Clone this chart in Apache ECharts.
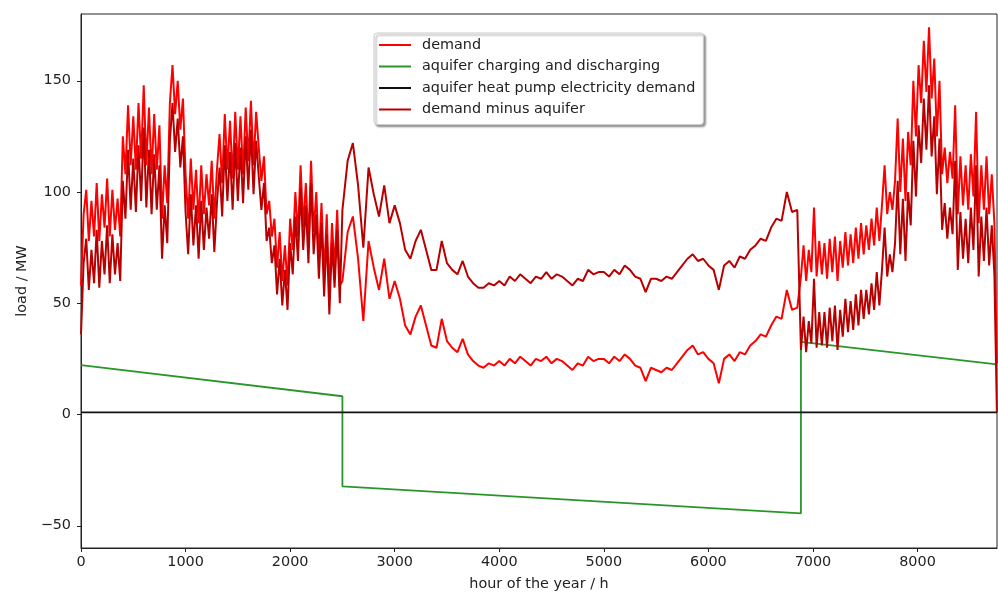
<!DOCTYPE html>
<html>
<head>
<meta charset="utf-8">
<script src="https://cdn.jsdelivr.net/npm/echarts@6/dist/echarts.min.js"></script>
<style>
  html, body { margin: 0; padding: 0; background: #fff; }
  #chart { width: 998px; height: 592px; }
</style>
</head>
<body>
<div id="chart"></div>
<script>
// hourly load, in three stretches:
// winter 1 (every 25 h from 0), summer (every 50 h from 2500), winter 2 (every 25 h from 6885)
var LAST_HOUR = 8759
var WINTER1_START = 0, WINTER1_STEP = 25
var SUMMER_START = 2500, SUMMER_STEP = 50
var WINTER2_START = 6885, WINTER2_STEP = 25

var demandWinter1 = [
  58, 90, 101, 78, 96, 80, 104, 78, 99, 84, 106, 80, 101, 83, 97, 80, 125, 108, 139, 112,
  134, 110, 140, 115, 148, 112, 138, 108, 135, 110, 130, 88, 112, 95, 140, 157, 135, 150, 128, 142,
  108, 88, 115, 92, 110, 86, 112, 90, 108, 94, 114, 88, 110, 126, 104, 135, 110, 132, 106, 136,
  110, 134, 108, 138, 114, 141, 112, 136, 120, 105, 116, 90, 96, 80, 88, 66, 82, 60, 76, 58,
  88, 74, 100, 80, 112, 84, 104, 78, 114, 82, 100, 70, 95, 62, 90, 54, 86, 66, 92, 58
]
var demandSummer = [
  60, 82, 89, 70, 42, 78, 66, 56, 70, 52,
  60, 52, 40, 36, 44, 49, 40, 31, 30, 43,
  33, 30, 28, 34, 27, 24, 22, 21, 23, 22,
  24, 22, 25, 23, 26, 24, 22, 25, 24, 26,
  23, 25, 24, 22, 20, 23, 22, 26, 24, 25,
  25, 23, 26, 24, 27, 25, 22, 21, 15, 21,
  20, 19, 21, 20, 23, 26, 29, 31, 27, 28,
  25, 23, 14, 25, 27, 24, 28, 27, 31, 33,
  36, 35, 40, 44, 43, 56, 47, 48
]
var demandWinter2 = [
  62, 76, 60, 74, 64, 93, 62, 78, 63, 77, 61, 79, 64, 80, 60, 78, 66, 82, 67, 81,
  68, 84, 70, 86, 72, 85, 74, 88, 76, 93, 78, 94, 112, 90, 100, 92, 105, 133, 100, 124,
  96, 127, 112, 150, 125, 157, 140, 168, 145, 174, 142, 160, 125, 150, 108, 120, 104, 118, 106, 139,
  90, 116, 94, 112, 92, 117, 98, 136, 86, 112, 92, 116, 90, 108, 86, 23
]

var minusAquiferWinter1 = [
  36, 68, 79, 56, 74, 59, 83, 57, 78, 63, 85, 59, 81, 63, 77, 60, 105, 88, 119, 92,
  115, 91, 121, 96, 129, 93, 119, 90, 117, 92, 112, 70, 94, 77, 123, 140, 118, 133, 111, 125,
  91, 72, 99, 76, 94, 70, 96, 74, 93, 79, 99, 73, 95, 111, 89, 121, 96, 118, 92, 122,
  96, 120, 95, 125, 101, 128, 99, 123, 107, 92, 104, 78, 84, 68, 76, 54, 70, 49, 65, 47,
  77, 63, 89, 69, 102, 74, 94, 68, 104, 72, 90, 61, 86, 53, 81, 45, 77, 57, 83, 50
]
var minusAquiferSummer = [
  92, 114, 122, 103, 75, 111, 99, 89, 103, 86,
  94, 86, 74, 70, 78, 83, 74, 65, 65, 78,
  68, 65, 63, 69, 62, 59, 57, 57, 59, 58,
  60, 58, 62, 60, 63, 61, 59, 62, 61, 64,
  61, 63, 62, 60, 58, 61, 60, 65, 63, 64,
  64, 62, 65, 63, 67, 65, 62, 61, 55, 61,
  61, 60, 62, 61, 64, 67, 70, 72, 69, 70,
  67, 65, 56, 67, 69, 66, 71, 70, 74, 76,
  79, 78, 84, 88, 87, 100, 91, 92
]
var minusAquiferWinter2 = [
  29, 44, 28, 42, 32, 61, 30, 46, 31, 46, 30, 48, 33, 49, 29, 47, 35, 52, 37, 51,
  38, 54, 40, 56, 43, 56, 45, 59, 47, 64, 49, 65, 84, 62, 72, 64, 77, 105, 72, 97,
  69, 100, 85, 123, 98, 130, 113, 142, 119, 148, 116, 134, 99, 124, 83, 95, 79, 93, 81, 114,
  65, 91, 70, 88, 68, 93, 74, 112, 62, 89, 69, 93, 67, 85, 63, 1
]

// aquifer charging / discharging (straight pieces)
var aquiferHours = [0, 2500, 2500, 6885, 6885, 8760]
var aquiferValues = [22.2, 8.2, -32.3, -44.4, 32.6, 22.5]

var heatPumpHours = [0, 8760]
var heatPumpValues = [1, 1]

var xTicks = [0, 1000, 2000, 3000, 4000, 5000, 6000, 7000, 8000]
var yTicks = [-50, 0, 50, 100, 150]

function stretch(start, step, values) {
  return values.map(function (v, i) {
    return [Math.min(start + i * step, LAST_HOUR), v]
  })
}

function wholeYear(w1, s, w2) {
  return stretch(WINTER1_START, WINTER1_STEP, w1)
    .concat(stretch(SUMMER_START, SUMMER_STEP, s))
    .concat(stretch(WINTER2_START, WINTER2_STEP, w2))
}

function pairs(xs, ys) {
  return ys.map(function (v, i) { return [xs[i], v] })
}

var FONT = 'DejaVu Sans'
var FS = 14.4
var LINE_ICON = 'path://M0,0H32V2H0Z'

var chart = echarts.init(document.getElementById('chart'))

chart.setOption({
  animation: false,
  backgroundColor: '#fff',
  grid: {
    left: 81,
    right: 1,
    top: 14,
    bottom: 44,
    containLabel: false,
    outerBoundsMode: 'none',
    show: true,
    borderColor: '#222',
    borderWidth: 1
  },
  legend: {
    orient: 'vertical',
    left: 374,
    top: 33,
    icon: LINE_ICON,
    itemWidth: 32,
    itemHeight: 14,
    itemGap: 7.5,
    padding: [5, 8, 8, 5],
    backgroundColor: '#fff',
    borderColor: '#cccccc',
    borderWidth: 1,
    borderRadius: 3,
    shadowColor: 'rgba(0,0,0,0.4)',
    shadowBlur: 2,
    shadowOffsetX: 2,
    shadowOffsetY: 2,
    textStyle: {
      fontFamily: FONT,
      fontSize: FS,
      color: '#222',
      padding: [0, 0, 0, 6]
    },
    data: ['demand', 'aquifer charging and discharging',
      'aquifer heat pump electricity demand', 'demand minus aquifer']
  },
  xAxis: {
    type: 'value',
    min: 0,
    max: 8760,
    name: 'hour of the year / h',
    nameLocation: 'middle',
    nameGap: 29,
    nameTextStyle: { fontFamily: FONT, fontSize: FS, color: '#222' },
    splitLine: { show: false },
    axisLine: { onZero: false, lineStyle: { color: '#222', width: 1 } },
    axisTick: { length: 4, lineStyle: { color: '#222' }, customValues: xTicks },
    axisLabel: {
      fontFamily: FONT, fontSize: FS, color: '#222', margin: 7,
      customValues: xTicks,
      formatter: function (v) { return String(v) }
    }
  },
  yAxis: {
    type: 'value',
    min: -60,
    max: 180,
    name: 'load / MW',
    nameLocation: 'middle',
    nameGap: 48,
    nameTextStyle: { fontFamily: FONT, fontSize: FS, color: '#222' },
    splitLine: { show: false },
    axisLine: { show: true, onZero: false, lineStyle: { color: '#222', width: 1 } },
    axisTick: { show: true, length: 4, lineStyle: { color: '#222' }, customValues: yTicks },
    axisLabel: {
      fontFamily: FONT, fontSize: FS, color: '#222', margin: 10,
      customValues: yTicks,
      formatter: function (v) { return String(v).replace('-', '\u2212') }
    }
  },
  series: [
    {
      name: 'demand',
      type: 'line',
      symbol: 'none',
      data: wholeYear(demandWinter1, demandSummer, demandWinter2),
      itemStyle: { color: '#ff0000' },
      lineStyle: { color: '#ff0000', width: 2 }
    },
    {
      name: 'aquifer charging and discharging',
      type: 'line',
      symbol: 'none',
      data: pairs(aquiferHours, aquiferValues),
      itemStyle: { color: '#2a962a' },
      lineStyle: { color: '#2a962a', width: 1.8 }
    },
    {
      name: 'aquifer heat pump electricity demand',
      type: 'line',
      symbol: 'none',
      data: pairs(heatPumpHours, heatPumpValues),
      itemStyle: { color: '#111' },
      lineStyle: { color: '#111', width: 1.8 }
    },
    {
      name: 'demand minus aquifer',
      type: 'line',
      symbol: 'none',
      data: wholeYear(minusAquiferWinter1, minusAquiferSummer, minusAquiferWinter2),
      itemStyle: { color: '#b80000' },
      lineStyle: { color: '#b80000', width: 2 }
    }
  ]
})
</script>
</body>
</html>
